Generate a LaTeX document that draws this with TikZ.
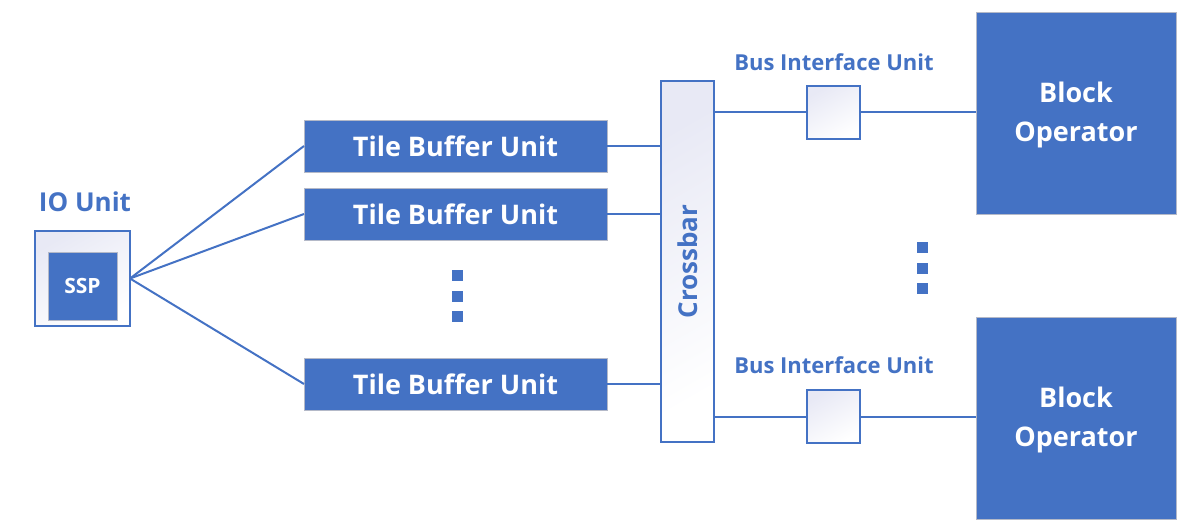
\documentclass[tikz,border=0pt]{standalone}
\usepackage{fontspec}
\setmainfont{Open Sans}
\definecolor{ublue}{HTML}{4472C4}
\definecolor{lav}{HTML}{E8E9F5}
\definecolor{edgegray}{HTML}{B4B9C8}
\tikzset{
  fillbox/.style={draw=edgegray, line width=0.8pt, fill=ublue, text=white, font=\bfseries\fontsize{27}{32}\selectfont, inner sep=0pt, outer sep=0pt, align=center},
  lightbox/.style={draw=ublue, line width=2pt, top color=lav, bottom color=white, shading angle=30, inner sep=0pt, outer sep=0pt},
  wire/.style={draw=ublue, line width=2pt},
  lbl/.style={text=ublue, font=\bfseries, inner sep=0pt},
  dot/.style={fill=ublue, minimum size=11pt, inner sep=0pt, draw=none}
}
\begin{document}
\begin{tikzpicture}[x=1pt,y=-1pt]
\useasboundingbox (0,0) rectangle (1192,532);
% IO unit
\node[lightbox, minimum width=95pt, minimum height=95pt] (io) at (82.5,278.5) {};
\node[fillbox, minimum width=69pt, minimum height=68pt, font=\bfseries\fontsize{21}{24}\selectfont] (ssp) at (82.5,286) {SSP};
\node[lbl, font=\bfseries\fontsize{26}{30}\selectfont] (iolbl) at (85,202) {IO Unit};
% tile buffers
\node[fillbox, minimum width=303pt, minimum height=52pt] (tb1) at (455.5,146) {Tile Buffer Unit};
\node[fillbox, minimum width=303pt, minimum height=52pt] (tb2) at (455.5,214) {Tile Buffer Unit};
\node[fillbox, minimum width=303pt, minimum height=52pt] (tb3) at (455.5,384) {Tile Buffer Unit};
\node[dot] (d1) at (457.5,275) {};
\node[dot] (d2) at (457.5,296) {};
\node[dot] (d3) at (457.5,316) {};
% crossbar
\node[lightbox, minimum width=53pt, minimum height=361pt] (xbar) at (687.5,261.5) {};
\node[lbl, rotate=90, font=\bfseries\fontsize{26}{30}\selectfont] (xlbl) at (xbar.center) {Crossbar};
% bus interface units
\node[lightbox, minimum width=53pt, minimum height=53pt] (biu1) at (833.5,112.5) {};
\node[lightbox, minimum width=53pt, minimum height=53pt] (biu2) at (833.5,416.5) {};
\node[lbl, font=\bfseries\fontsize{22}{26}\selectfont] (bl1) at (834,62) {Bus Interface Unit};
\node[lbl, font=\bfseries\fontsize{22}{26}\selectfont] (bl2) at (834,365) {Bus Interface Unit};
% block operators
\node[fillbox, minimum width=200pt, minimum height=202pt] (bo1) at (1076,113) {};
\node[fillbox, minimum width=200pt, minimum height=202pt] (bo2) at (1076,418) {};
\node[text=white, font=\bfseries\fontsize{27}{39}\selectfont, align=center, inner sep=0pt] (bt1) at ([yshift=-2pt]bo1.center) {Block\\Operator};
\node[text=white, font=\bfseries\fontsize{27}{39}\selectfont, align=center, inner sep=0pt] (bt2) at ([yshift=-2pt]bo2.center) {Block\\Operator};
\node[dot] (e1) at (922,247) {};
\node[dot] (e2) at (922,268) {};
\node[dot] (e3) at (922,288) {};
% wires
\draw[wire] (io.east) -- (tb1.west);
\draw[wire] (io.east) -- (tb2.west);
\draw[wire] (io.east) -- (tb3.west);
\draw[wire] (tb1.east) -- (tb1.east -| xbar.west);
\draw[wire] (tb2.east) -- (tb2.east -| xbar.west);
\draw[wire] (tb3.east) -- (tb3.east -| xbar.west);
\draw[wire] (biu1.west -| xbar.east) -- (biu1.west);
\draw[wire] (biu2.west -| xbar.east) -- (biu2.west);
\draw[wire] (biu1.east) -- (biu1.east -| bo1.west);
\draw[wire] (biu2.east) -- (biu2.east -| bo2.west);
\end{tikzpicture}
\end{document}
